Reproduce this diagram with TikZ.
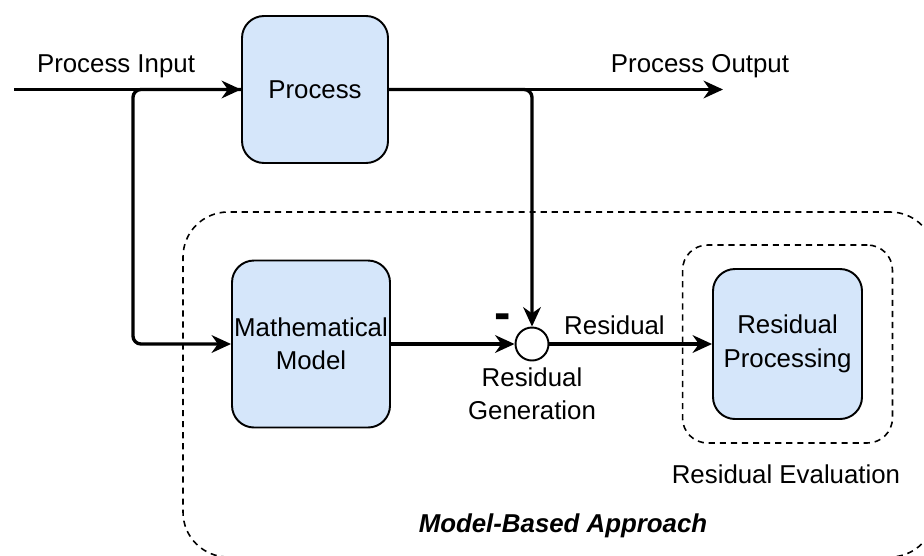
\documentclass[tikz,border=0pt]{standalone}
\usepackage{fontspec}
\setmainfont{Liberation Sans}
\usetikzlibrary{arrows.meta,positioning,fit}

\definecolor{blockfill}{RGB}{213,230,250}
\newcommand{\diagfont}{\fontsize{14.7pt}{19pt}\selectfont}

\begin{document}
\begin{tikzpicture}[
    font=\diagfont,
    block/.style={draw, line width=1.1pt, rounded corners=0.44cm, fill=blockfill, align=center, inner sep=0pt},
    junction/.style={circle, draw, line width=1.1pt, fill=white, minimum size=0.66cm, inner sep=0pt},
    frame/.style={draw, line width=0.9pt, dash pattern=on 3.5pt off 2.8pt, rounded corners=#1},
    flow/.style={line width=1.9pt, rounded corners=4.5pt, -{Stealth[length=11pt, width=10pt, inset=3.5pt]}}
]

\useasboundingbox (0,0) rectangle (18.48,11.1);
\clip (0,0) rectangle (18.48,11.1);

% dashed group around the model part
\node[frame=0.9cm, minimum width=15.04cm, minimum height=6.9cm] (approach) at (11.18,3.41) {};
\node[anchor=base, font=\diagfont\bfseries\itshape] (approachlbl) at (11.26,0.46) {Model-Based Approach};

% blocks
\node[block, minimum width=2.92cm, minimum height=2.94cm] (proc) at (6.30,9.31) {Process};
\node[block, minimum width=3.16cm, minimum height=3.34cm] (model) at (6.22,4.22) {Mathematical\\Model};
\node[junction] (sum) at (10.64,4.22) {};
\node[block, minimum width=2.98cm, minimum height=3.0cm] (resproc) at (15.75,4.22) {Residual\\Processing};
\node[frame=0.5cm, fit=(resproc), inner xsep=0.59cm, inner ysep=0.46cm] (eval) {};

% labels
\node[anchor=base] (inlbl) at (2.32,9.66) {Process Input};
\node[anchor=base] (outlbl) at (14.0,9.66) {Process Output};
\node[below=0pt of sum, align=center] (genlbl) {Residual\\Generation};
\node[anchor=base] (evallbl) at (15.72,1.44) {Residual Evaluation};
\node[anchor=base, font=\fontsize{28pt}{28pt}\selectfont\bfseries] (minus) at (10.06,4.52) {-};

\coordinate (in) at (0.28,9.31);
\coordinate (split) at (2.66,9.31);
\coordinate (out) at (14.46,9.31);

% signal flow
\draw[flow] (proc.west) -- (split) |- (model.west);
\draw[flow] (in) -- (proc.west);
\draw[flow] (proc.east) -- (out);
\draw[flow] (proc.east) -| (sum.north);
\draw[flow] (model.east) -- (sum.west);
\draw[flow] (sum.east) -- node[pos=0.4, above=1pt] (reslbl) {Residual} (resproc.west);

\end{tikzpicture}
\end{document}
